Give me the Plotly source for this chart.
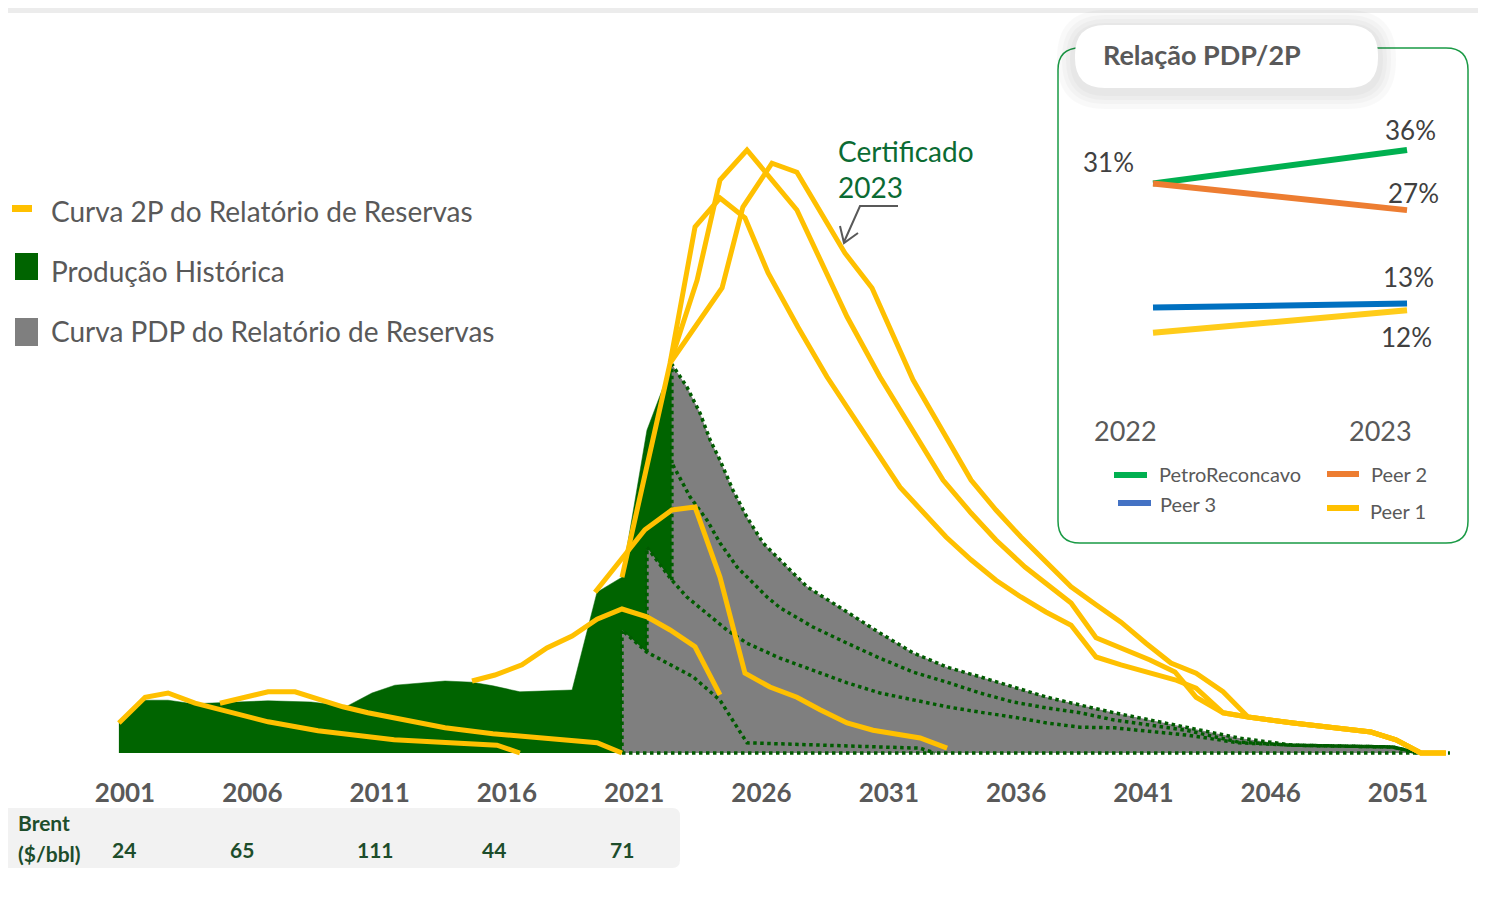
import plotly.graph_objects as go

# page body has an 8px margin, so the figure is drawn 8px in from the corner
OFF = 8
W, H = 1486 - OFF, 901 - OFF

# historical production (green area)
hist_years = [2000.76, 2001.79, 2002.69, 2003.67, 2006.62, 2008.31, 2009.72, 2010.70, 2011.60,
              2013.57, 2014.63, 2015.45, 2016.51, 2018.56, 2019.54, 2020.52, 2021.50, 2022.48]
hist_prod = [5.2, 8.8, 8.8, 8.2, 8.7, 8.5, 7.8, 10.0, 11.3,
             12.0, 11.8, 11.2, 10.2, 10.5, 26.8, 29.3, 53.8, 64.8]

# PDP curves of each reserves report (grey area, dotted outlines)
pdp20_x = [2020.52, 2020.52, 2021.50, 2023.31, 2024.37, 2025.43, 2032.23, 2032.81]
pdp20_y = [0, 20.5, 16.8, 12.7, 8.8, 1.7, 0.8, 0]
pdp21_x = [2021.50, 2021.50, 2022.48, 2023.07, 2024.64, 2025.43, 2026.73, 2028.02, 2029.36, 2030.65,
           2031.95, 2033.29, 2034.58, 2035.88, 2037.21, 2038.51, 2039.85, 2042.67, 2044.75, 2046.88,
           2050.80, 2051.79]
pdp21_y = [16.8, 34.3, 28.8, 26.0, 20.5, 18.3, 15.8, 13.8, 11.7, 10.0,
           8.8, 7.7, 6.8, 6.0, 5.0, 4.3, 4.2, 3.0, 1.7, 1.3,
           1.0, 0]
pdp22_x = [2022.48, 2022.48, 2022.80, 2023.19, 2023.86, 2024.37, 2025.04, 2025.67, 2026.22, 2026.73,
           2028.02, 2029.36, 2030.65, 2031.95, 2033.29, 2034.58, 2035.88, 2037.21, 2038.51, 2039.85,
           2042.67, 2044.75, 2046.88, 2050.80, 2051.79]
pdp22_y = [28.8, 48.3, 45.8, 42.7, 38.8, 35.0, 31.0, 28.3, 26.0, 24.2,
           21.0, 18.3, 15.8, 13.5, 11.8, 10.0, 8.5, 7.5, 6.7, 5.5,
           3.8, 1.8, 1.3, 1.0, 0]
pdp23_x = [2022.48, 2022.48, 2023.07, 2023.58, 2023.98, 2024.37, 2024.88, 2025.43, 2026.06, 2026.84,
           2027.79, 2029.36, 2030.65, 2031.95, 2033.29, 2034.58, 2035.88, 2037.21, 2038.51, 2039.85,
           2042.67, 2044.75, 2046.88, 2050.80, 2051.79]
pdp23_y = [48.3, 64.8, 61.0, 56.7, 52.2, 48.8, 43.8, 39.3, 35.0, 31.7,
           27.7, 23.5, 20.0, 16.7, 14.3, 12.7, 11.0, 9.3, 8.0, 6.7,
           4.3, 2.5, 1.3, 1.0, 0]
pdp_base_x = [2020.52, 2053.04]
pdp_base_y = [0, 0]

# 2P curves of each reserves report (yellow lines)
c2p_a_x = [2000.76, 2001.79, 2002.69, 2003.75, 2006.62, 2008.58, 2011.57, 2015.61, 2016.51]
c2p_a_y = [5.0, 9.3, 10.0, 8.3, 5.2, 3.7, 2.2, 1.3, 0]
c2p_b_x = [2004.73, 2005.71, 2006.62, 2007.68, 2008.58, 2009.56, 2010.54, 2013.57, 2015.45, 2019.54, 2020.52]
c2p_b_y = [8.3, 9.2, 10.2, 10.2, 9.0, 7.7, 6.7, 4.2, 3.2, 1.7, 0]
c2p_c_x = [2014.63, 2015.53, 2016.59, 2017.57, 2018.56, 2019.54, 2020.52, 2021.50, 2022.41, 2023.39, 2024.37]
c2p_c_y = [12.0, 13.0, 14.7, 17.5, 19.5, 22.3, 24.0, 22.7, 20.5, 17.7, 9.7]
c2p_d_x = [2019.46, 2020.52, 2021.42, 2022.48, 2023.39, 2024.37, 2025.35, 2026.33, 2027.39, 2028.30,
           2029.36, 2030.38, 2032.23, 2033.29]
c2p_d_y = [26.8, 32.5, 37.2, 40.5, 41.0, 29.3, 13.3, 11.0, 9.3, 7.2,
           5.0, 3.8, 2.5, 0.8]
c2p_e1_x = [2020.52, 2022.41, 2023.39, 2024.37, 2025.35, 2026.26, 2027.43, 2028.57, 2031.44, 2032.26,
            2033.25, 2034.23, 2035.21, 2036.19, 2037.17, 2038.16, 2039.14, 2040.12, 2041.26, 2042.24,
            2043.07, 2044.13, 2045.11, 2046.88, 2049.94, 2050.92, 2051.90, 2052.88]
c2p_e1_y = [29.3, 65.0, 87.7, 92.5, 89.2, 80.0, 71.0, 62.7, 44.3, 40.5,
            36.0, 32.2, 28.8, 26.0, 23.5, 21.3, 16.0, 14.7, 13.3, 12.2,
            10.8, 6.7, 6.0, 5.0, 3.5, 2.2, 0, 0]
c2p_e2_x = [2022.41, 2023.47, 2024.37, 2025.43, 2027.39, 2029.36, 2030.65, 2033.13, 2034.23, 2035.21,
            2036.35, 2037.25, 2038.16, 2039.14, 2040.12, 2041.26, 2042.24, 2043.07, 2044.13, 2045.11,
            2046.88, 2049.94, 2050.92, 2051.90, 2052.88]
c2p_e2_y = [65.0, 78.8, 95.5, 100.5, 90.5, 72.7, 62.7, 45.5, 40.0, 35.5,
            31.0, 28.0, 25.0, 19.2, 17.5, 15.5, 13.5, 9.3, 6.7, 6.0,
            5.0, 3.5, 2.2, 0, 0]
c2p_e3_x = [2022.41, 2024.45, 2025.27, 2026.41, 2027.39, 2029.28, 2030.34, 2031.95, 2034.23, 2035.21,
            2036.19, 2037.17, 2038.16, 2039.14, 2040.12, 2041.10, 2042.08, 2043.07, 2044.13, 2045.11,
            2046.88, 2049.94, 2050.92, 2051.90, 2052.88]
c2p_e3_y = [65.0, 77.5, 91.0, 98.3, 96.8, 83.3, 77.5, 62.2, 45.5, 40.5,
            36.0, 31.8, 27.7, 24.7, 21.8, 18.3, 15.0, 13.3, 10.2, 6.0,
            5.0, 3.5, 2.2, 0, 0]

tick_years = [2001, 2006, 2011, 2016, 2021, 2026, 2031, 2036, 2041, 2046, 2051]
brent_price = ["24", "65", "111", "44", "71"]

# inset: PDP/2P ratio
inset_years = [2022, 2023]
petro = [31, 36]
peer2 = [31, 27]
peer3 = [12.4, 13]
peer1 = [8.6, 12]

GREEN = "#006400"
GREY = "#7f7f7f"
YELLOW = "#ffc000"
TXT = "#595959"
FONT = "Lato"


def fx(p):
    return (p - OFF) / W


def fy(p):
    return 1 - (p - OFF) / H


def rrect(x0, y0, x1, y1, r):
    # rounded rectangle path in paper coords, input in window pixels
    return (f"M {fx(x0 + r)},{fy(y0)} L {fx(x1 - r)},{fy(y0)} Q {fx(x1)},{fy(y0)} {fx(x1)},{fy(y0 + r)} "
            f"L {fx(x1)},{fy(y1 - r)} Q {fx(x1)},{fy(y1)} {fx(x1 - r)},{fy(y1)} "
            f"L {fx(x0 + r)},{fy(y1)} Q {fx(x0)},{fy(y1)} {fx(x0)},{fy(y1 - r)} "
            f"L {fx(x0)},{fy(y0 + r)} Q {fx(x0)},{fy(y0)} {fx(x0 + r)},{fy(y0)} Z")


# grey envelope = PDP curves stitched at each report start
env_x, env_y = [], []
for cx, cy, nxt in [(pdp20_x, pdp20_y, pdp21_x[0]), (pdp21_x, pdp21_y, pdp22_x[0]),
                    (pdp22_x, pdp22_y, pdp23_x[0])]:
    for a, b in zip(cx, cy):
        if a <= nxt:
            env_x.append(a)
            env_y.append(b)
env_x += pdp23_x
env_y += pdp23_y

fig = go.Figure()

fig.add_trace(go.Scatter(x=hist_years, y=hist_prod, mode="lines", fill="tozeroy",
                         fillcolor=GREEN, line=dict(color=GREEN, width=0.5), hoverinfo="skip"))
fig.add_trace(go.Scatter(x=env_x, y=env_y, mode="lines", fill="tozeroy",
                         fillcolor=GREY, line=dict(color=GREY, width=0), hoverinfo="skip"))
for cx, cy in [(pdp_base_x, pdp_base_y), (pdp20_x, pdp20_y), (pdp21_x, pdp21_y),
               (pdp22_x, pdp22_y), (pdp23_x, pdp23_y)]:
    fig.add_trace(go.Scatter(x=cx, y=cy, mode="lines",
                             line=dict(color="#005c00", width=3.5, dash="dot"), hoverinfo="skip"))
for cx, cy in [(c2p_a_x, c2p_a_y), (c2p_b_x, c2p_b_y), (c2p_c_x, c2p_c_y), (c2p_d_x, c2p_d_y),
               (c2p_e1_x, c2p_e1_y), (c2p_e2_x, c2p_e2_y), (c2p_e3_x, c2p_e3_y)]:
    fig.add_trace(go.Scatter(x=cx, y=cy, mode="lines",
                             line=dict(color=YELLOW, width=5), hoverinfo="skip"))

# inset lines
for vals, col in [(petro, "#00b050"), (peer2, "#ed7d31"), (peer3, "#0070c0"), (peer1, "#ffcc1a")]:
    fig.add_trace(go.Scatter(x=inset_years, y=vals, mode="lines", xaxis="x2", yaxis="y2",
                             line=dict(color=col, width=6), hoverinfo="skip"))

shapes = []
# top grey band of the slide
shapes.append(dict(type="rect", xref="paper", yref="paper", layer="below", x0=0, x1=1, y0=fy(13), y1=1,
                   fillcolor="#ececec", line=dict(width=0)))
# brent box
shapes.append(dict(type="path", xref="paper", yref="paper", layer="below",
                   path=rrect(-10, 808, 680, 868, 8), fillcolor="#f2f2f2", line=dict(width=0)))
# main legend markers
shapes.append(dict(type="rect", xref="paper", yref="paper", x0=fx(12), x1=fx(32), y0=fy(205), y1=fy(212),
                   fillcolor=YELLOW, line=dict(width=0)))
shapes.append(dict(type="rect", xref="paper", yref="paper", x0=fx(15), x1=fx(38), y0=fy(253), y1=fy(280),
                   fillcolor=GREEN, line=dict(width=0)))
shapes.append(dict(type="rect", xref="paper", yref="paper", x0=fx(15), x1=fx(38), y0=fy(318), y1=fy(346),
                   fillcolor=GREY, line=dict(width=0)))
# certificado arrow
shapes.append(dict(type="path", xref="paper", yref="paper",
                   path=f"M {fx(898)},{fy(206)} L {fx(860)},{fy(206)} L {fx(844)},{fy(242)}",
                   line=dict(color=TXT, width=2)))
shapes.append(dict(type="path", xref="paper", yref="paper",
                   path=f"M {fx(840)},{fy(226)} L {fx(844)},{fy(243)} L {fx(858)},{fy(233)}",
                   line=dict(color=TXT, width=2)))
# inset frame
shapes.append(dict(type="path", xref="paper", yref="paper",
                   path=rrect(1058, 48, 1468, 543, 22), fillcolor="rgba(0,0,0,0)",
                   line=dict(color="#1a9a45", width=1.5)))
for k in [18, 13, 9, 5]:
    shapes.append(dict(type="path", xref="paper", yref="paper",
                       path=rrect(1075 - k, 25 - k + 3, 1378 + k, 88 + k + 3, 30 + k),
                       fillcolor="rgba(0,0,0,0.022)", line=dict(width=0)))
shapes.append(dict(type="path", xref="paper", yref="paper",
                   path=rrect(1075, 25, 1378, 88, 30), fillcolor="white", line=dict(width=0)))
# inset legend swatches
for x0, x1, yy, col in [(1114, 1147, 475, "#00b050"), (1327, 1359, 474, "#ed7d31"),
                        (1118, 1151, 503, "#4472c4"), (1327, 1359, 508, "#ffc000")]:
    shapes.append(dict(type="line", xref="paper", yref="paper", x0=fx(x0), x1=fx(x1), y0=fy(yy), y1=fy(yy),
                       line=dict(color=col, width=6)))

ann = []
for txt, yy in [("Curva 2P do Relatório de Reservas", 211), ("Produção Histórica", 271),
                ("Curva PDP do Relatório de Reservas", 331)]:
    ann.append(dict(text=txt, xref="paper", yref="paper", x=fx(49), y=fy(yy), xanchor="left", yanchor="middle",
                    showarrow=False, font=dict(family=FONT, size=28, color=TXT)))
ann.append(dict(text="Certificado<br>2023", xref="paper", yref="paper", x=fx(836), y=fy(169),
                xanchor="left", yanchor="middle", align="left", showarrow=False,
                font=dict(family=FONT, size=28, color="#0b6b33")))
ann.append(dict(text="<b>Brent</b>", xref="paper", yref="paper", x=fx(16), y=fy(822), xanchor="left",
                yanchor="middle", showarrow=False, font=dict(family=FONT, size=21, color="#1d4d2b")))
ann.append(dict(text="<b>($/bbl)</b>", xref="paper", yref="paper", x=fx(16), y=fy(853), xanchor="left",
                yanchor="middle", showarrow=False, font=dict(family=FONT, size=21, color="#1d4d2b")))
for v, xx in zip(brent_price, [124, 242, 375, 494, 622]):
    ann.append(dict(text=f"<b>{v}</b>", xref="paper", yref="paper", x=fx(xx), y=fy(849), xanchor="center",
                    yanchor="middle", showarrow=False, font=dict(family=FONT, size=21, color="#1d4d2b")))
# inset texts
ann.append(dict(text="<b>Relação PDP/2P</b>", xref="paper", yref="paper", x=fx(1101), y=fy(55),
                xanchor="left", yanchor="middle", showarrow=False, font=dict(family=FONT, size=27, color=TXT)))
for xv, yv, txt, xs, ys in [(2022, petro[0], "31%", -45, 21), (2023, petro[1], "36%", 3, 20),
                            (2023, peer2[1], "27%", 6, 17), (2023, peer3[1], "13%", 1, 27),
                            (2023, peer1[1], "12%", -1, -27)]:
    ann.append(dict(text=txt, xref="x2", yref="y2", x=xv, y=yv, xshift=xs, yshift=ys, showarrow=False,
                    xanchor="center", yanchor="middle", font=dict(family=FONT, size=26, color="#404040")))
for yr, xs in zip(inset_years, [-28, -27]):
    ann.append(dict(text=str(yr), xref="x2", yref="paper", x=yr, y=fy(430), xshift=xs, showarrow=False,
                    xanchor="center", yanchor="middle", font=dict(family=FONT, size=27, color=TXT)))
for txt, xx, yy in [("PetroReconcavo", 1157, 474), ("Peer 2", 1369, 474), ("Peer 3", 1158, 504),
                    ("Peer 1", 1368, 511)]:
    ann.append(dict(text=txt, xref="paper", yref="paper", x=fx(xx), y=fy(yy), xanchor="left",
                    yanchor="middle", showarrow=False, font=dict(family=FONT, size=20, color=TXT)))

# year -> window pixel: 2001 at 125 px, 25.46 px per year; value -> 6 px per unit above 753 px
x_lo = 2001 + (OFF - 125) / 25.46
x_hi = 2001 + (1486 - 125) / 25.46
y_hi = (753 - OFF) / 6

fig.update_layout(
    width=W, height=H, margin=dict(l=0, r=0, t=0, b=0), autosize=False,
    paper_bgcolor="white", plot_bgcolor="rgba(0,0,0,0)", showlegend=False,
    xaxis=dict(range=[x_lo, x_hi], domain=[0, 1], showgrid=False, zeroline=False, showline=False,
               tickmode="array", tickvals=tick_years, ticktext=[f"<b>{t}</b>" for t in tick_years],
               ticks="outside", ticklen=14, tickcolor="rgba(0,0,0,0)",
               tickfont=dict(family=FONT, size=26, color=TXT), fixedrange=True),
    yaxis=dict(range=[-0.5, y_hi], domain=[fy(756), 1], visible=False, fixedrange=True),
    xaxis2=dict(range=[2021.626, 2023.240], domain=[fx(1058), fx(1468)], anchor="y2", visible=False),
    yaxis2=dict(range=[-22.9, 51.3], domain=[fy(543), fy(48)], anchor="x2", visible=False),
    shapes=shapes, annotations=ann,
)

fig.write_html("out.html")
